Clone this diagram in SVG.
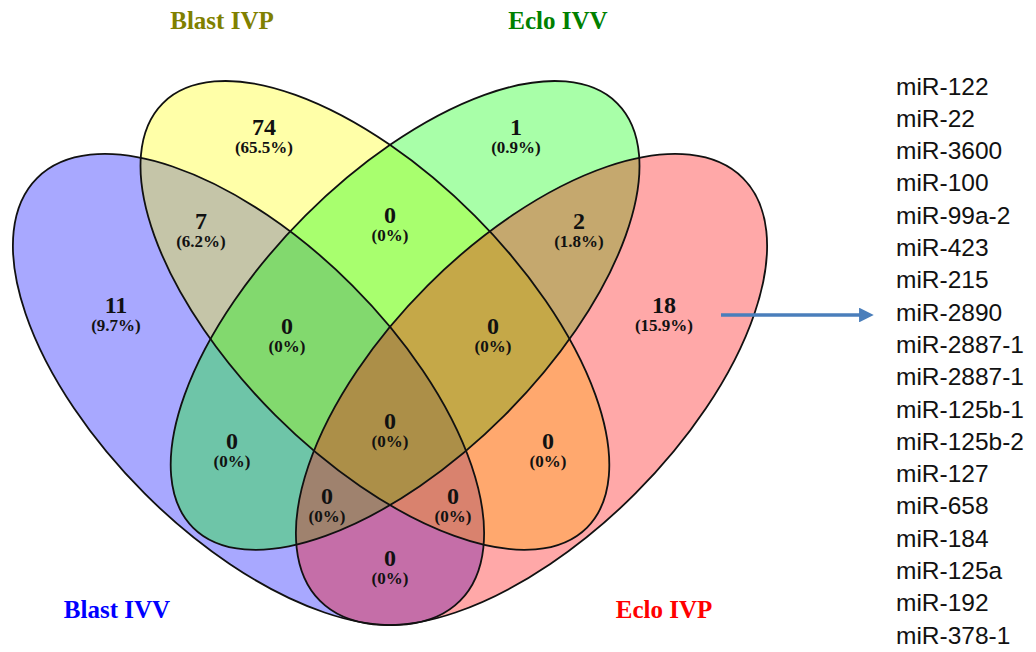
<svg xmlns="http://www.w3.org/2000/svg" width="1036" height="652" viewBox="0 0 1036 652">
<defs>
<style>
.fill{stroke:none;fill-opacity:0.34}
.outline{fill:none;stroke:#111;stroke-width:1.8}
.setlbl{font-family:"Liberation Serif",serif;font-weight:bold;font-size:25px;text-anchor:middle}
.num{font-family:"Liberation Serif",serif;font-weight:bold;font-size:24px;text-anchor:middle;fill:#111}
.pct{font-family:"Liberation Serif",serif;font-weight:bold;font-size:17px;text-anchor:middle;fill:#111}
.mir{font-family:"Liberation Sans",Arial,sans-serif;font-size:24.5px;fill:#111}
.conn{stroke:#4A7EBB;stroke-width:3.5;fill:none}
</style>
<marker id="arrowhead" viewBox="0 0 10 10" refX="2" refY="5" markerWidth="4.2" markerHeight="4.2" markerUnits="strokeWidth" orient="auto">
<path d="M0,0 L10,5 L0,10 z" fill="#4A7EBB"/>
</marker>
</defs>
<rect width="1036" height="652" fill="#ffffff"/>

<g id="set-blast-ivv">
<ellipse class="fill" cx="248.5" cy="389.5" rx="299" ry="147" transform="rotate(45 248.5 389.5)" fill="#0000ff"/>
<text class="setlbl" x="117" y="618" fill="#0000ff">Blast IVV</text>
</g>
<g id="set-blast-ivp">
<ellipse class="fill" cx="374.9" cy="315.4" rx="300" ry="141" transform="rotate(45 374.9 315.4)" fill="#ffff00"/>
<text class="setlbl" x="222" y="29" fill="#808000">Blast IVP</text>
</g>
<g id="set-eclo-ivv">
<ellipse class="fill" cx="405.1" cy="315.4" rx="300" ry="141" transform="rotate(-45 405.1 315.4)" fill="#00ff00"/>
<text class="setlbl" x="558" y="29" fill="#008000">Eclo IVV</text>
</g>
<g id="set-eclo-ivp">
<ellipse class="fill" cx="531.5" cy="389.5" rx="299" ry="147" transform="rotate(-45 531.5 389.5)" fill="#ff0000"/>
<text class="setlbl" x="664" y="618" fill="#ff0000">Eclo IVP</text>
</g>

<g id="outlines">
<ellipse class="outline" cx="248.5" cy="389.5" rx="299" ry="147" transform="rotate(45 248.5 389.5)"/>
<ellipse class="outline" cx="374.9" cy="315.4" rx="300" ry="141" transform="rotate(45 374.9 315.4)"/>
<ellipse class="outline" cx="405.1" cy="315.4" rx="300" ry="141" transform="rotate(-45 405.1 315.4)"/>
<ellipse class="outline" cx="531.5" cy="389.5" rx="299" ry="147" transform="rotate(-45 531.5 389.5)"/>
</g>

<g id="region-labels">
<text class="num" x="264" y="135">74</text><text class="pct" x="264" y="153">(65.5%)</text>
<text class="num" x="516" y="135">1</text><text class="pct" x="516" y="153">(0.9%)</text>
<text class="num" x="201" y="229">7</text><text class="pct" x="201" y="247">(6.2%)</text>
<text class="num" x="390" y="223">0</text><text class="pct" x="390" y="241">(0%)</text>
<text class="num" x="579" y="229">2</text><text class="pct" x="579" y="247">(1.8%)</text>
<text class="num" x="116" y="313">11</text><text class="pct" x="116" y="331">(9.7%)</text>
<text class="num" x="664" y="313">18</text><text class="pct" x="664" y="331">(15.9%)</text>
<text class="num" x="287" y="334">0</text><text class="pct" x="287" y="352">(0%)</text>
<text class="num" x="493" y="334">0</text><text class="pct" x="493" y="352">(0%)</text>
<text class="num" x="390" y="429">0</text><text class="pct" x="390" y="447">(0%)</text>
<text class="num" x="232" y="449">0</text><text class="pct" x="232" y="467">(0%)</text>
<text class="num" x="548" y="449">0</text><text class="pct" x="548" y="467">(0%)</text>
<text class="num" x="327" y="504">0</text><text class="pct" x="327" y="522">(0%)</text>
<text class="num" x="453" y="504">0</text><text class="pct" x="453" y="522">(0%)</text>
<text class="num" x="390" y="566">0</text><text class="pct" x="390" y="584">(0%)</text>
</g>

<g id="connectors">
<line class="conn" x1="721" y1="315" x2="862" y2="315" marker-end="url(#arrowhead)"/>
</g>

<g id="mir-list">
<text class="mir" x="896" y="94.5">miR-122</text>
<text class="mir" x="896" y="126.8">miR-22</text>
<text class="mir" x="896" y="159.1">miR-3600</text>
<text class="mir" x="896" y="191.4">miR-100</text>
<text class="mir" x="896" y="223.7">miR-99a-2</text>
<text class="mir" x="896" y="256">miR-423</text>
<text class="mir" x="896" y="288.3">miR-215</text>
<text class="mir" x="896" y="320.6">miR-2890</text>
<text class="mir" x="896" y="352.9">miR-2887-1</text>
<text class="mir" x="896" y="385.2">miR-2887-1</text>
<text class="mir" x="896" y="417.5">miR-125b-1</text>
<text class="mir" x="896" y="449.8">miR-125b-2</text>
<text class="mir" x="896" y="482.1">miR-127</text>
<text class="mir" x="896" y="514.4">miR-658</text>
<text class="mir" x="896" y="546.7">miR-184</text>
<text class="mir" x="896" y="579">miR-125a</text>
<text class="mir" x="896" y="611.3">miR-192</text>
<text class="mir" x="896" y="643.6">miR-378-1</text>
</g>
</svg>
